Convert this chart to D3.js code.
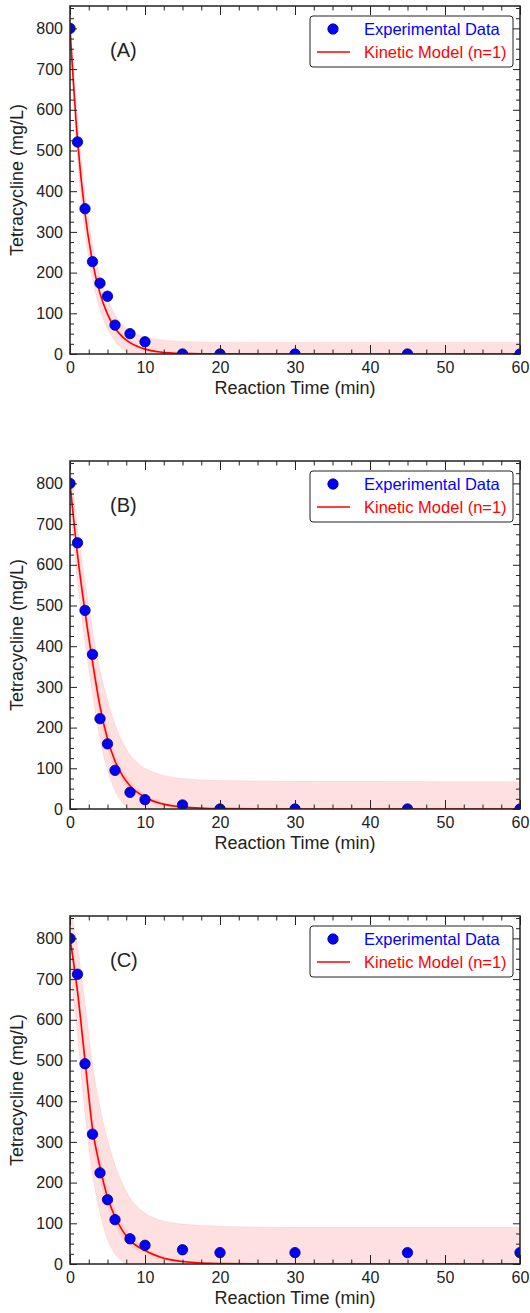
<!DOCTYPE html>
<html>
<head>
<meta charset="utf-8">
<script src="https://cdn.jsdelivr.net/npm/d3@7"></script>
<style>
  body { margin: 0; background: #fff; }
  svg text { font-family: "Liberation Sans", Arial, sans-serif; fill: #222; }
</style>
</head>
<body>
<svg id="chart" width="530" height="1313"></svg>
<script>
// measured times (min)
const obsTime = [0, 1, 2, 3, 4, 5, 6, 8, 10, 15, 20, 30, 45, 60];
// experimental data (mg/L)
const obsA = [800, 521, 357, 227, 174, 142, 71, 50, 30, 0, 0, 0, 0, 0];
const obsB = [800, 654, 488, 380, 222, 160, 95, 41, 23, 10, 0, 0, 0, 0];
const obsC = [800, 712, 492, 319, 224, 158, 109, 62, 46, 35, 28, 28, 28, 28];

// model curve sampled at these times
const fitTime = [0, 1, 2, 3, 4, 5, 6, 7, 8, 10, 12, 15, 20, 30, 60];
const fitA = [800, 526, 346, 227, 149, 98, 64, 42, 28, 12, 5, 1.5, 0.2, 0, 0];
const fitB = [800, 625, 485, 362, 252, 172, 118, 82, 57, 29, 14, 5, 1, 0, 0];
const fitC = [800, 670, 500, 333, 238, 164, 116, 82, 58, 33, 17, 6, 1, 0, 0];

// prediction band (outer)
const hiA = [830, 575, 395, 270, 190, 135, 97, 72, 57, 42, 35, 31, 29, 28, 28];
const loA = [770, 478, 298, 184, 108, 62, 32, 12, 0, -16, -22, -26, -28, -28, -28];
const hiB = [850, 690, 560, 440, 340, 268, 208, 164, 133, 100, 85, 75, 70, 68, 67];
const loB = [750, 560, 410, 285, 170, 95, 45, 15, -5, -35, -50, -60, -65, -67, -67];
const hiC = [880, 780, 640, 490, 385, 305, 243, 197, 163, 125, 108, 98, 93, 90, 90];
const loC = [720, 565, 370, 220, 125, 60, 25, 5, -15, -45, -65, -80, -88, -90, -90];

// confidence band half-width (inner)
const ciA = [10, 12, 12, 10, 8, 7, 6, 5, 4, 3, 2, 1, 0, 0, 0];
const ciB = [15, 25, 30, 30, 28, 24, 20, 16, 12, 8, 5, 3, 1, 0, 0];
const ciC = [20, 30, 35, 35, 32, 27, 22, 18, 14, 9, 6, 3, 1, 0, 0];

const panelLabels = ['(A)', '(B)', '(C)'];
const xTicks = [0, 10, 20, 30, 40, 50, 60];
const yTicks = [0, 100, 200, 300, 400, 500, 600, 700, 800];
const legendLabels = ['Experimental Data', 'Kinetic Model (n=1)'];

const panels = [
  { obs: obsA, fit: fitA, hi: hiA, lo: loA, ci: ciA },
  { obs: obsB, fit: fitB, hi: hiB, lo: loB, ci: ciB },
  { obs: obsC, fit: fitC, hi: hiC, lo: loC, ci: ciC },
];

const svg = d3.select('#chart');
const left = 70, plotW = 450, plotH = 348;
const tops = [6, 461, 916];

const xScale = d3.scaleLinear().domain([0, 60]).range([0, plotW]);
const yScale = d3.scaleLinear().domain([0, 855]).range([plotH, 0]);

panels.forEach((p, i) => {
  const g = svg.append('g').attr('transform', `translate(${left},${tops[i]})`);

  g.append('clipPath').attr('id', 'clip' + i)
    .append('rect').attr('width', plotW).attr('height', plotH);
  const plot = g.append('g').attr('clip-path', `url(#clip${i})`);

  const rows = fitTime.map((t, j) => ({ t, fit: p.fit[j], hi: p.hi[j], lo: p.lo[j], ci: p.ci[j] }));

  // prediction band
  plot.append('path').datum(rows)
    .attr('d', d3.area().curve(d3.curveMonotoneX)
      .x(d => xScale(d.t)).y0(d => yScale(d.lo)).y1(d => yScale(d.hi)))
    .attr('fill', '#ff0000').attr('fill-opacity', 0.12)
    .attr('stroke', '#ff0000').attr('stroke-opacity', 0.08);

  // confidence band
  plot.append('path').datum(rows)
    .attr('d', d3.area().curve(d3.curveMonotoneX)
      .x(d => xScale(d.t)).y0(d => yScale(d.fit - d.ci)).y1(d => yScale(d.fit + d.ci)))
    .attr('fill', '#ff0000').attr('fill-opacity', 0.08);

  // model curve
  plot.append('path').datum(rows)
    .attr('d', d3.line().curve(d3.curveMonotoneX)
      .x(d => xScale(d.t)).y(d => yScale(d.fit)))
    .attr('fill', 'none').attr('stroke', '#ff0000').attr('stroke-width', 1.6);

  // data points
  plot.selectAll('circle').data(obsTime.map((t, j) => ({ t, v: p.obs[j] })))
    .join('circle')
    .attr('cx', d => xScale(d.t)).attr('cy', d => yScale(d.v))
    .attr('r', 5.2)
    .attr('fill', '#0000ff').attr('stroke', '#00007a').attr('stroke-width', 0.8);

  // axes: ticks inward on all four sides
  const xMinor = d3.range(0, 60.1, 2.5).filter(v => v % 10 !== 0);
  const yMinor = d3.range(0, 855, 25).filter(v => v % 100 !== 0);

  const bottom = g.append('g').attr('transform', `translate(0,${plotH})`)
    .call(d3.axisBottom(xScale).tickValues(xTicks).tickSize(-9).tickPadding(8).tickSizeOuter(0));
  bottom.append('g').call(d3.axisBottom(xScale).tickValues(xMinor).tickSize(-4.5).tickFormat('').tickSizeOuter(0));
  const top = g.append('g')
    .call(d3.axisTop(xScale).tickValues(xTicks).tickSize(-9).tickFormat('').tickSizeOuter(0));
  top.append('g').call(d3.axisTop(xScale).tickValues(xMinor).tickSize(-4.5).tickFormat('').tickSizeOuter(0));

  const leftAx = g.append('g')
    .call(d3.axisLeft(yScale).tickValues(yTicks).tickSize(-7).tickPadding(7).tickSizeOuter(0));
  leftAx.append('g').call(d3.axisLeft(yScale).tickValues(yMinor).tickSize(-4).tickFormat('').tickSizeOuter(0));
  const rightAx = g.append('g').attr('transform', `translate(${plotW},0)`)
    .call(d3.axisRight(yScale).tickValues(yTicks).tickSize(-7).tickFormat('').tickSizeOuter(0));
  rightAx.append('g').call(d3.axisRight(yScale).tickValues(yMinor).tickSize(-4).tickFormat('').tickSizeOuter(0));

  g.selectAll('.domain').remove();
  g.selectAll('.tick line').attr('stroke', '#222').attr('stroke-width', 1);
  g.selectAll('.tick text').style('font-size', '16px').attr('fill', '#222');

  // frame
  g.append('rect').attr('width', plotW).attr('height', plotH)
    .attr('fill', 'none').attr('stroke', '#222').attr('stroke-width', 1.5);

  // titles
  g.append('text').attr('x', plotW / 2).attr('y', plotH + 40)
    .attr('text-anchor', 'middle').style('font-size', '18px')
    .text('Reaction Time (min)');
  g.append('text').attr('transform', `translate(${-47},${plotH / 2}) rotate(-90)`)
    .attr('text-anchor', 'middle').style('font-size', '18px')
    .text('Tetracycline (mg/L)');

  g.append('text').attr('x', 40).attr('y', 51).style('font-size', '20px').text(panelLabels[i]);

  // legend
  const lg = g.append('g').attr('transform', `translate(${plotW - 210},10)`);
  lg.append('rect').attr('width', 203).attr('height', 51).attr('rx', 3)
    .attr('fill', '#fff').attr('stroke', '#222').attr('stroke-width', 1);
  lg.append('circle').attr('cx', 23).attr('cy', 13).attr('r', 5.2)
    .attr('fill', '#0000ff').attr('stroke', '#00007a').attr('stroke-width', 0.8);
  lg.append('line').attr('x1', 7).attr('x2', 40).attr('y1', 36).attr('y2', 36)
    .attr('stroke', '#ff0000').attr('stroke-width', 1.6);
  lg.append('text').attr('x', 54).attr('y', 19).style('font-size', '16.5px')
    .style('fill', '#0000ff').text(legendLabels[0]);
  lg.append('text').attr('x', 54).attr('y', 42).style('font-size', '16.5px')
    .style('fill', '#ff0000').text(legendLabels[1]);
});
</script>
</body>
</html>
